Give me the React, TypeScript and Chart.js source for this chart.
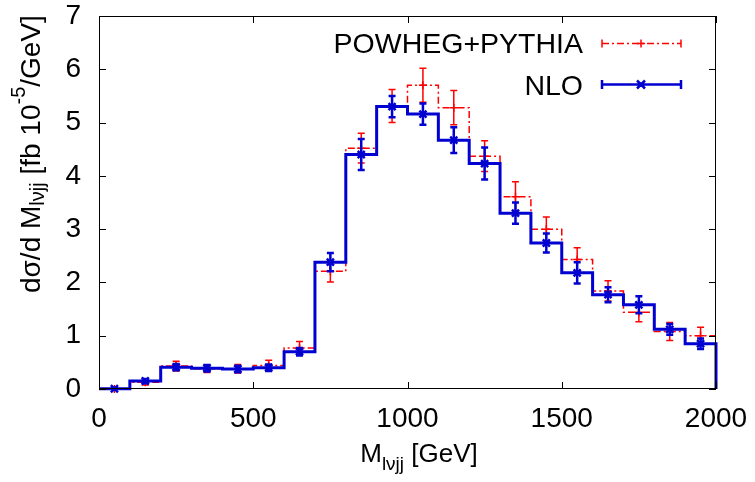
import React, { useEffect, useRef } from 'react';
import { Chart, registerables } from 'chart.js';

Chart.register(...registerables);

// ---- data ----
const binEdges = [0, 100, 200, 300, 400, 500, 600, 700, 800, 900, 1000, 1100, 1200, 1300, 1400, 1500, 1600, 1700, 1800, 1900, 2000];
const binCenters = [50, 150, 250, 350, 450, 550, 650, 750, 850, 950, 1050, 1150, 1250, 1350, 1450, 1550, 1650, 1750, 1850, 1950];
const nloValues = [0.005, 0.15, 0.41, 0.39, 0.375, 0.40, 0.70, 2.38, 4.40, 5.30, 5.16, 4.67, 4.23, 3.30, 2.74, 2.18, 1.77, 1.58, 1.12, 0.85];
const nloErrors = [0.02, 0.04, 0.06, 0.06, 0.06, 0.06, 0.07, 0.17, 0.29, 0.20, 0.20, 0.24, 0.30, 0.20, 0.18, 0.20, 0.14, 0.16, 0.10, 0.10];
const powhegValues = [0.0, 0.125, 0.43, 0.38, 0.38, 0.44, 0.77, 2.21, 4.52, 5.31, 5.70, 5.28, 4.37, 3.61, 3.00, 2.43, 1.84, 1.44, 1.08, 1.00];
const powhegErrors = [0.02, 0.05, 0.09, 0.07, 0.08, 0.10, 0.12, 0.20, 0.28, 0.31, 0.32, 0.32, 0.29, 0.28, 0.23, 0.22, 0.19, 0.18, 0.17, 0.16];
const xTicks = [0, 500, 1000, 1500, 2000];
const yTicks = [0, 1, 2, 3, 4, 5, 6, 7];
const seriesLabels = ['POWHEG+PYTHIA', 'NLO'];

const FONT = '"Liberation Sans", Arial, Helvetica, sans-serif';
const RED = '#ff0000';
const BLUE = '#0000d0';
const RED_DASH = [7, 3, 2, 3];

function stepData(values: number[], dropAtEnd: boolean) {
  const pts = values.map((v, i) => ({ x: binEdges[i], y: v }));
  pts.push({ x: binEdges[binEdges.length - 1], y: values[values.length - 1] });
  if (dropAtEnd) pts.push({ x: binEdges[binEdges.length - 1], y: 0 });
  return pts;
}

function drawErrorBars(chart: any, values: number[], errors: number[], color: string, width: number) {
  const { ctx, scales } = chart;
  const xs = scales.x;
  const ys = scales.y;
  ctx.save();
  ctx.strokeStyle = color;
  ctx.lineWidth = width;
  ctx.setLineDash([]);
  binCenters.forEach((c, i) => {
    const px = xs.getPixelForValue(c);
    const top = ys.getPixelForValue(values[i] + errors[i]);
    const bot = ys.getPixelForValue(Math.max(0, values[i] - errors[i]));
    ctx.beginPath();
    ctx.moveTo(px, top);
    ctx.lineTo(px, bot);
    ctx.moveTo(px - 3.5, top);
    ctx.lineTo(px + 3.5, top);
    ctx.moveTo(px - 3.5, bot);
    ctx.lineTo(px + 3.5, bot);
    ctx.stroke();
  });
  ctx.restore();
}

type Part = { t: string; size: number; dy: number };

function drawRichText(ctx: CanvasRenderingContext2D, parts: Part[], x: number, y: number) {
  let cx = x;
  parts.forEach((p) => {
    ctx.font = `${p.size}px ${FONT}`;
    ctx.fillText(p.t, cx, y + p.dy);
    cx += ctx.measureText(p.t).width;
  });
  return cx - x;
}

function measureRich(ctx: CanvasRenderingContext2D, parts: Part[]) {
  let w = 0;
  parts.forEach((p) => {
    ctx.font = `${p.size}px ${FONT}`;
    w += ctx.measureText(p.t).width;
  });
  return w;
}

const errorBarPlugin = {
  id: 'errorBars',
  afterDatasetDraw(chart: any, args: any) {
    if (args.index === 2) drawErrorBars(chart, powhegValues, powhegErrors, RED, 1.5);
    if (args.index === 3) drawErrorBars(chart, nloValues, nloErrors, BLUE, 2.5);
  },
};

const decorPlugin = {
  id: 'decor',
  afterDraw(chart: any) {
    const { ctx, chartArea, scales } = chart;
    const { left, right, top, bottom } = chartArea;
    ctx.save();
    // frame
    ctx.strokeStyle = '#000';
    ctx.lineWidth = 1;
    ctx.setLineDash([]);
    ctx.strokeRect(left + 0.5, top + 0.5, right - left - 1, bottom - top - 1);
    // inward ticks (mirrored)
    ctx.beginPath();
    yTicks.forEach((v) => {
      const py = Math.round(scales.y.getPixelForValue(v)) + 0.5;
      ctx.moveTo(left, py);
      ctx.lineTo(left + 7, py);
      ctx.moveTo(right, py);
      ctx.lineTo(right - 7, py);
    });
    xTicks.forEach((v) => {
      const px = Math.round(scales.x.getPixelForValue(v)) + 0.5;
      ctx.moveTo(px, bottom);
      ctx.lineTo(px, bottom - 7);
      ctx.moveTo(px, top);
      ctx.lineTo(px, top + 7);
    });
    ctx.stroke();

    // legend
    ctx.fillStyle = '#000';
    ctx.font = `28.5px ${FONT}`;
    ctx.textAlign = 'right';
    ctx.textBaseline = 'alphabetic';
    ctx.fillText(seriesLabels[0], 583, 53);
    ctx.fillText(seriesLabels[1], 583, 95);

    const x0 = 602, x1 = 681, xm = 641;
    // red sample
    ctx.strokeStyle = RED;
    ctx.lineWidth = 1.5;
    ctx.setLineDash(RED_DASH);
    ctx.beginPath();
    ctx.moveTo(x0, 43.5);
    ctx.lineTo(x1, 43.5);
    ctx.stroke();
    ctx.setLineDash([]);
    ctx.beginPath();
    ctx.moveTo(x0, 39.5); ctx.lineTo(x0, 47.5);
    ctx.moveTo(x1, 39.5); ctx.lineTo(x1, 47.5);
    ctx.moveTo(xm - 4, 43.5); ctx.lineTo(xm + 4, 43.5);
    ctx.moveTo(xm, 39.5); ctx.lineTo(xm, 47.5);
    ctx.stroke();
    // blue sample
    ctx.strokeStyle = BLUE;
    ctx.lineWidth = 2.5;
    ctx.beginPath();
    ctx.moveTo(x0, 84.5);
    ctx.lineTo(x1, 84.5);
    ctx.moveTo(x0, 80); ctx.lineTo(x0, 89);
    ctx.moveTo(x1, 80); ctx.lineTo(x1, 89);
    ctx.moveTo(xm - 4, 80.5); ctx.lineTo(xm + 4, 88.5);
    ctx.moveTo(xm - 4, 88.5); ctx.lineTo(xm + 4, 80.5);
    ctx.stroke();

    // x-axis title
    ctx.fillStyle = '#000';
    ctx.textAlign = 'left';
    const xParts: Part[] = [
      { t: 'M', size: 26, dy: 0 },
      { t: 'lνjj', size: 19, dy: 8 },
      { t: ' [GeV]', size: 26, dy: 0 },
    ];
    const xw = measureRich(ctx, xParts);
    drawRichText(ctx, xParts, 419 - xw / 2, 462);

    // y-axis title (rotated)
    const yParts: Part[] = [
      { t: 'dσ/d M', size: 28, dy: 0 },
      { t: 'lνjj', size: 20, dy: 4 },
      { t: ' [fb 10', size: 28, dy: 0 },
      { t: '-5', size: 20, dy: -15 },
      { t: '/GeV]', size: 28, dy: 0 },
    ];
    ctx.save();
    ctx.translate(40, 293);
    ctx.rotate(-Math.PI / 2);
    drawRichText(ctx, yParts, 0, 0);
    ctx.restore();

    ctx.restore();
  },
};

export default function App() {
  const canvasRef = useRef<HTMLCanvasElement | null>(null);

  useEffect(() => {
    document.body.style.margin = '0';
    const canvas = canvasRef.current;
    if (!canvas) return;
    const chart = new Chart(canvas, {
      type: 'line',
      data: {
        datasets: [
          {
            label: seriesLabels[0],
            data: stepData(powhegValues, false),
            borderColor: RED,
            borderWidth: 1.5,
            borderDash: RED_DASH,
            stepped: true,
            pointRadius: 0,
            fill: false,
            order: 4,
            clip: 3,
          } as any,
          {
            label: seriesLabels[1],
            data: stepData(nloValues, true),
            borderColor: BLUE,
            borderWidth: 3,
            stepped: true,
            pointRadius: 0,
            fill: false,
            order: 2,
            clip: 3,
          } as any,
          {
            type: 'scatter',
            label: seriesLabels[0] + ' points',
            data: binCenters.map((c, i) => ({ x: c, y: powhegValues[i] })),
            pointStyle: 'cross',
            pointRadius: 4,
            borderColor: RED,
            backgroundColor: RED,
            borderWidth: 1.5,
            showLine: false,
            order: 3,
            clip: 6,
          } as any,
          {
            type: 'scatter',
            label: seriesLabels[1] + ' points',
            data: binCenters.map((c, i) => ({ x: c, y: nloValues[i] })),
            pointStyle: 'crossRot',
            pointRadius: 5,
            borderColor: BLUE,
            backgroundColor: BLUE,
            borderWidth: 2.5,
            showLine: false,
            order: 1,
            clip: 6,
          } as any,
        ],
      },
      options: {
        responsive: false,
        animation: false,
        layout: { padding: { top: 16, right: 39, left: 0, bottom: 0 } },
        plugins: {
          legend: { display: false },
          tooltip: { enabled: false },
          title: { display: false },
        },
        scales: {
          x: {
            type: 'linear',
            min: 0,
            max: 2000,
            afterBuildTicks: (s: any) => { s.ticks = xTicks.map((v) => ({ value: v })); },
            ticks: {
              font: { family: FONT, size: 28 },
              color: '#000',
              padding: 13,
              maxRotation: 0,
              autoSkip: false,
              callback: (v: any) => String(v),
            },
            grid: { display: false, drawTicks: false, tickLength: 0 },
            border: { display: false },
            afterFit: (s: any) => { s.height = 93; s.paddingLeft = 0; s.paddingRight = 0; },
          },
          y: {
            type: 'linear',
            min: 0,
            max: 7,
            afterBuildTicks: (s: any) => { s.ticks = yTicks.map((v) => ({ value: v })); },
            ticks: {
              font: { family: FONT, size: 28 },
              color: '#000',
              padding: 18,
              autoSkip: false,
              callback: (v: any) => String(v),
            },
            grid: { display: false, drawTicks: false, tickLength: 0 },
            border: { display: false },
            afterFit: (s: any) => { s.width = 99; s.paddingTop = 0; s.paddingBottom = 0; },
          },
        },
      } as any,
      plugins: [errorBarPlugin, decorPlugin],
    });
    return () => chart.destroy();
  }, []);

  return (
    <div style={{ position: 'absolute', left: 0, top: 0, width: 755, height: 482, background: '#fff' }}>
      <canvas ref={canvasRef} width={755} height={482} style={{ display: 'block', width: 755, height: 482 }} />
    </div>
  );
}
